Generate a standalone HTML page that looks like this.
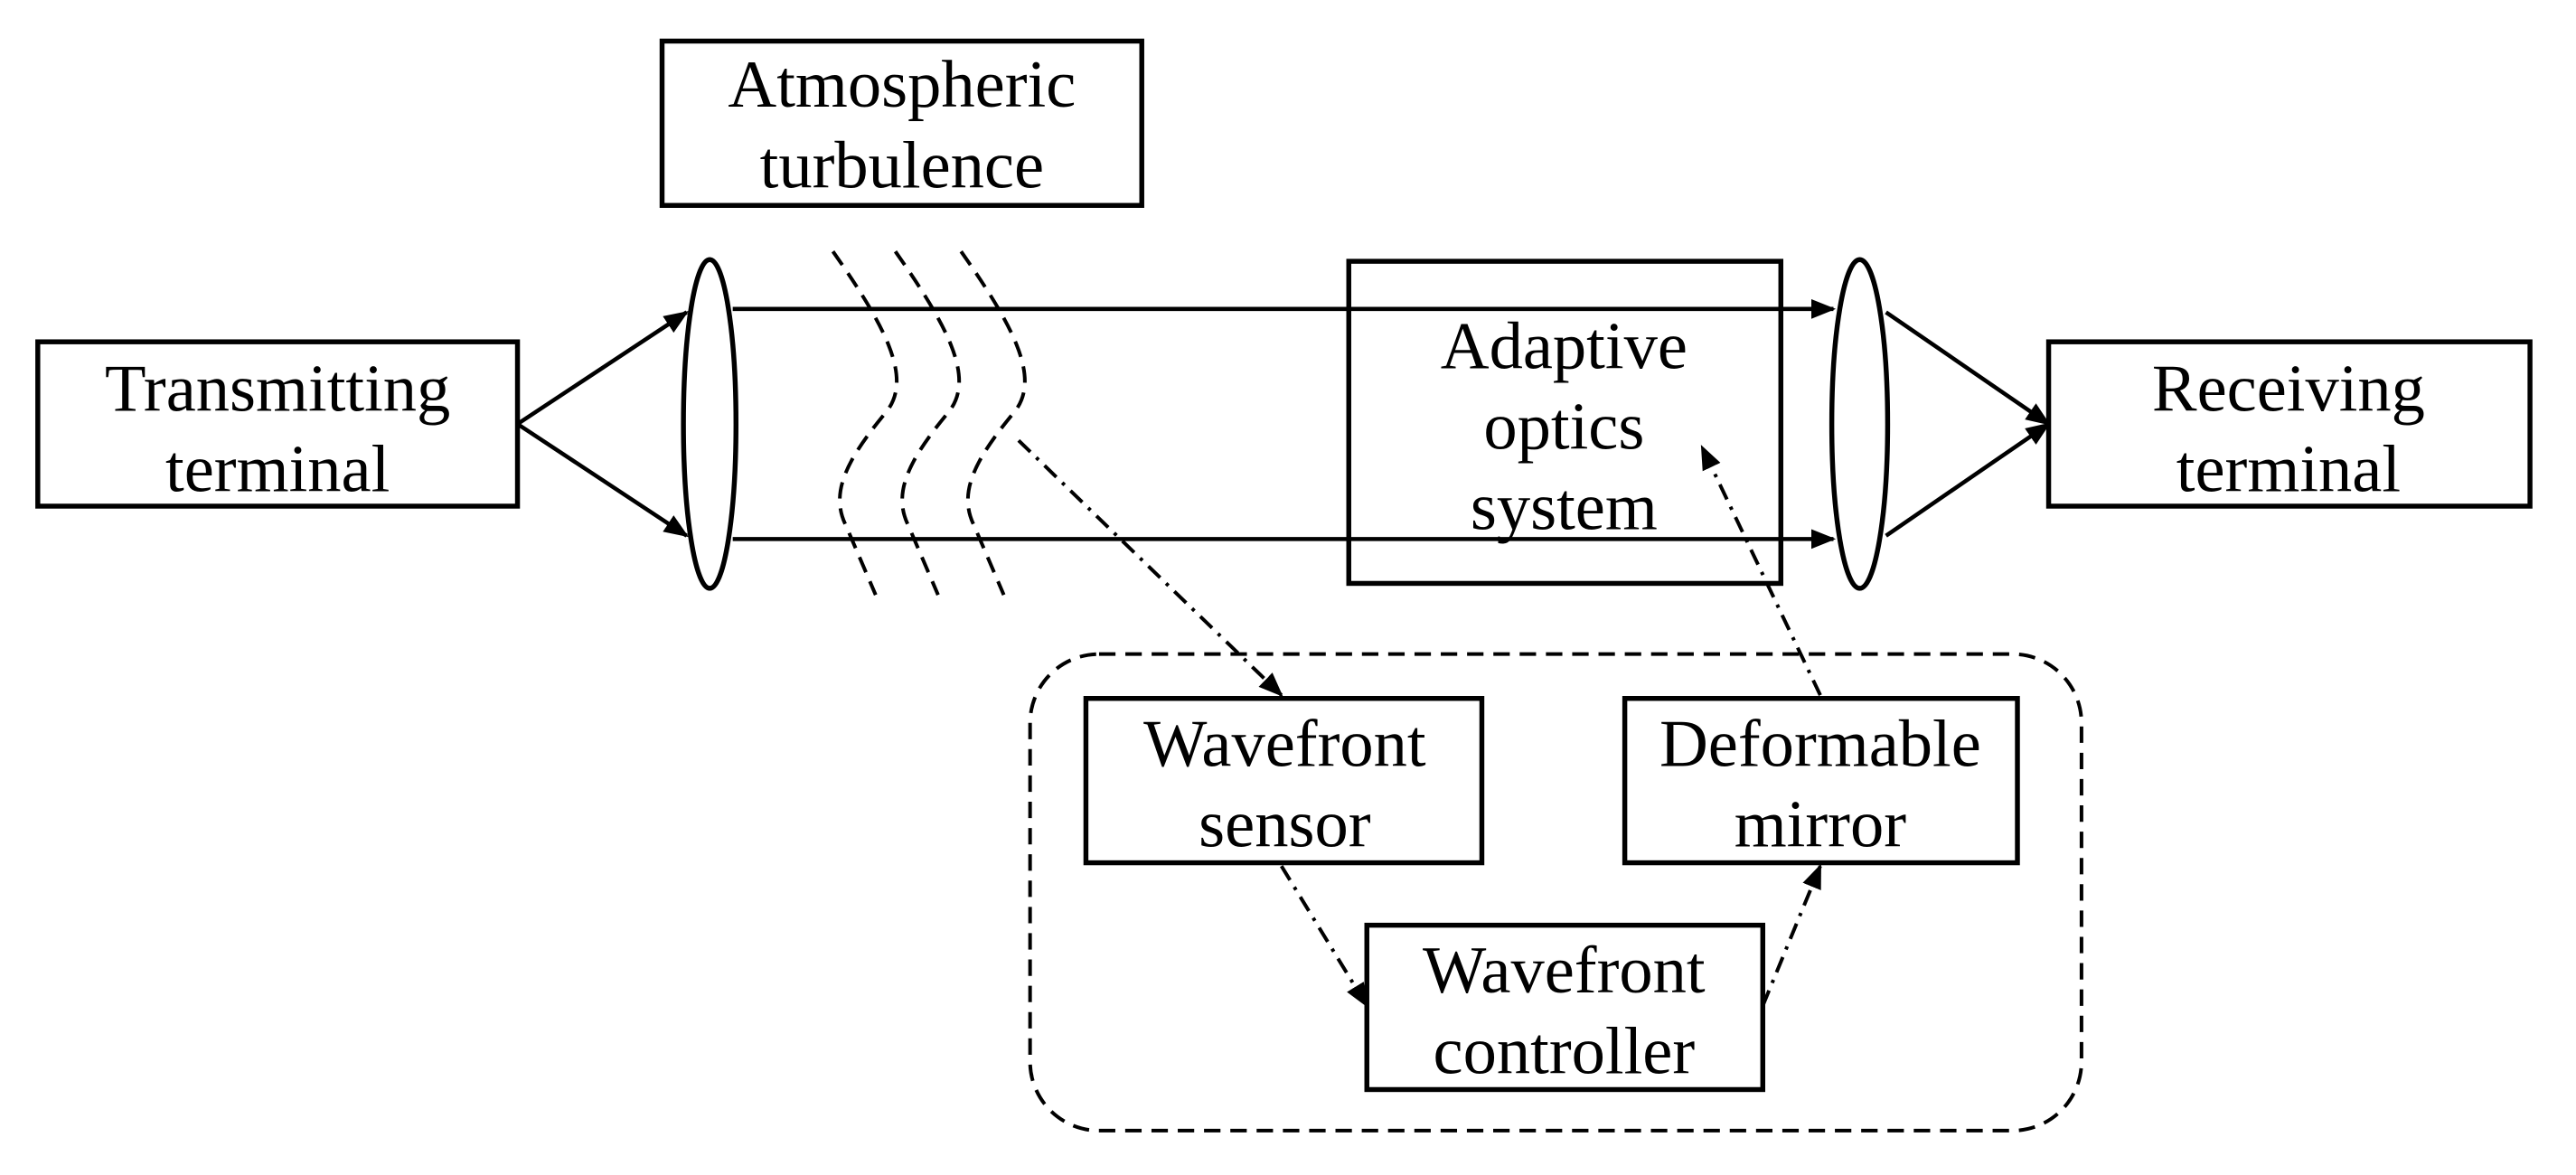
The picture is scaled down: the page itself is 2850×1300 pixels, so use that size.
<!DOCTYPE html>
<html><head><meta charset="utf-8"><style>
html,body{margin:0;padding:0;background:#fff;}
svg{display:block;}
text{font-family:"Liberation Serif",serif;font-size:41px;fill:#000;text-anchor:middle;}
</style></head><body>
<svg width="2850" height="1300" viewBox="0 0 1568 715" preserveAspectRatio="none" xmlns="http://www.w3.org/2000/svg">
<defs>
<marker id="a2" viewBox="0 0 10 10" refX="9" refY="5" markerWidth="15" markerHeight="15" orient="auto" markerUnits="userSpaceOnUse">
<path d="M0,1 L10,5 L0,9 z" fill="#000"/></marker>
</defs>
<g fill="none" stroke="#000" stroke-width="3">
<rect x="403" y="25" width="292" height="100"/>
<rect x="23" y="208" width="292" height="100"/>
<rect x="821" y="159" width="263" height="196"/>
<rect x="1247" y="208" width="293" height="100"/>
<rect x="661" y="425" width="241" height="100"/>
<rect x="989" y="425" width="239" height="100"/>
<rect x="832" y="563" width="241" height="100"/>
<ellipse cx="432" cy="258" rx="16" ry="100"/>
<ellipse cx="1132" cy="258" rx="17" ry="100"/>
</g>
<g fill="none" stroke="#000" stroke-width="2.5">
<line x1="315" y1="258" x2="418" y2="190" marker-end="url(#a2)"/>
<line x1="315" y1="258" x2="418" y2="326" marker-end="url(#a2)"/>
<line x1="446" y1="188" x2="1116" y2="188" marker-end="url(#a2)"/>
<line x1="446" y1="328" x2="1116" y2="328" marker-end="url(#a2)"/>
<line x1="1148" y1="190" x2="1247" y2="258" marker-end="url(#a2)"/>
<line x1="1148" y1="326" x2="1247" y2="258" marker-end="url(#a2)"/>
</g>
<g fill="none" stroke="#000" stroke-width="2.2" stroke-dasharray="10,6">
<path d="M507,153 C540,200 555,230 540,250 C515,280 505,300 515,320 L533,362"/>
<path d="M545,153 C578,200 593,230 578,250 C553,280 543,300 553,320 L571,362"/>
<path d="M585,153 C618,200 633,230 618,250 C593,280 583,300 593,320 L611,362"/>
<rect x="627" y="398" width="640" height="290" rx="42" ry="42"/>
</g>
<g fill="none" stroke="#000" stroke-width="2.2" stroke-dasharray="10,5,2,5">
<line x1="620" y1="268" x2="780" y2="423" marker-end="url(#a2)"/>
<line x1="780" y1="527" x2="832" y2="612" marker-end="url(#a2)"/>
<line x1="1073" y1="612" x2="1108" y2="527" marker-end="url(#a2)"/>
<line x1="1108" y1="423" x2="1036" y2="272" marker-end="url(#a2)"/>
</g>
<text x="549" y="65">Atmospheric</text>
<text x="549" y="114">turbulence</text>
<text x="169" y="250">Transmitting</text>
<text x="169" y="299">terminal</text>
<text x="952" y="224">Adaptive</text>
<text x="952" y="273">optics</text>
<text x="952" y="322">system</text>
<text x="1393" y="250">Receiving</text>
<text x="1393" y="299">terminal</text>
<text x="782" y="466">Wavefront</text>
<text x="782" y="515">sensor</text>
<text x="1108" y="466">Deformable</text>
<text x="1108" y="515">mirror</text>
<text x="952" y="604">Wavefront</text>
<text x="952" y="653">controller</text>
</svg>
</body></html>
